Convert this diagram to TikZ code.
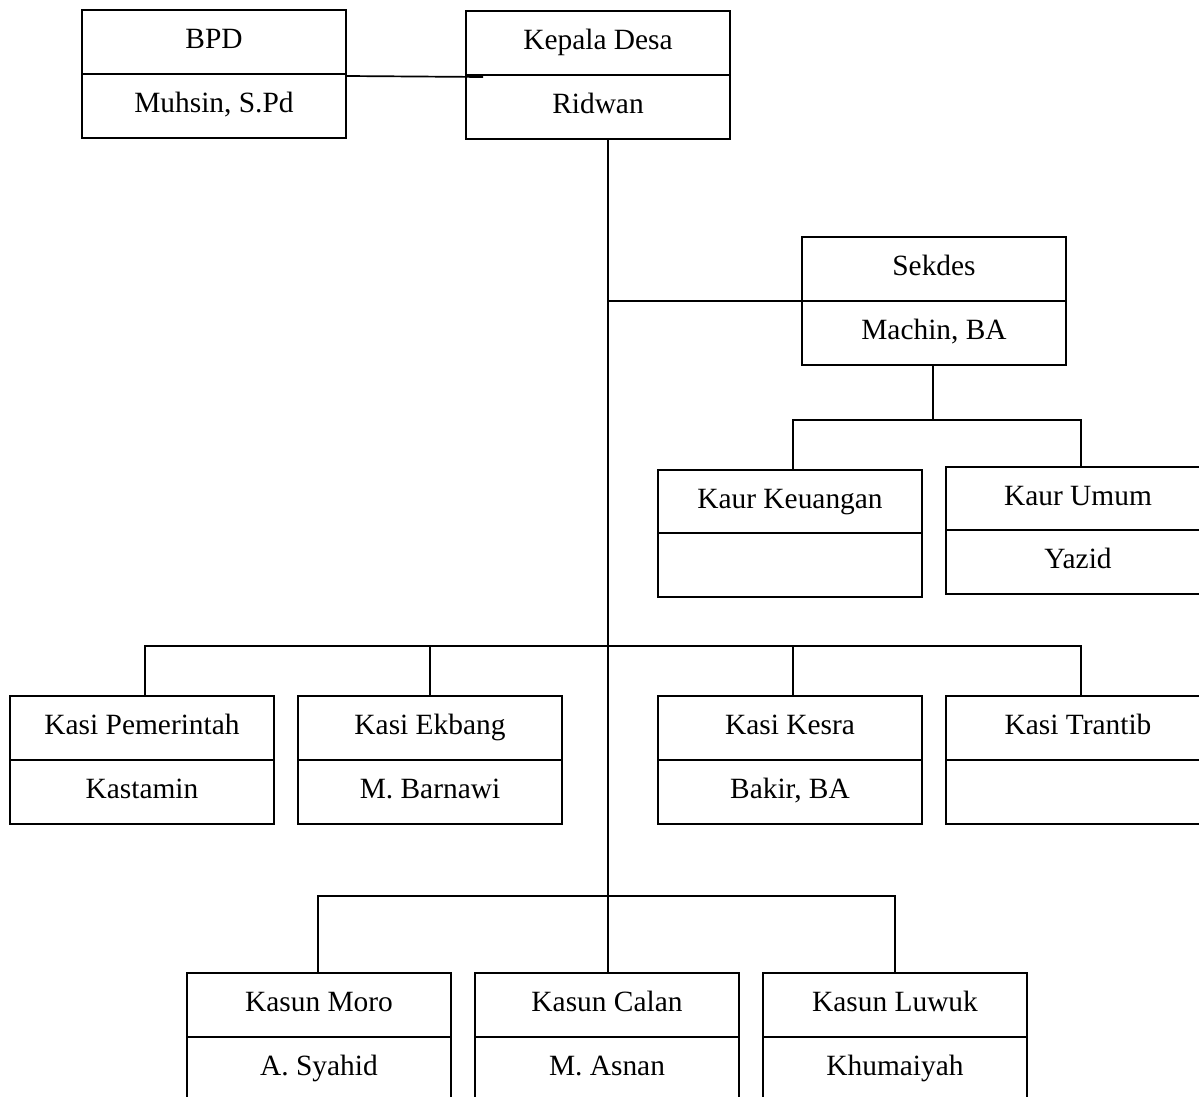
\documentclass[tikz,border=0pt]{standalone}
\usepackage{fontspec}
\setmainfont{Liberation Serif}
\newcommand\orgbox[6][64]{%
  \node[cell, minimum height=#1] (#2T) at (#3,#4) {#5};
  \node[cell] (#2B) at (#2T.south west) {#6};
}
\begin{document}
\begin{tikzpicture}[x=1pt,y=-1pt,
  cell/.style={draw, line width=1.7pt, minimum width=264, minimum height=64,
    inner sep=0pt, outer sep=0pt, anchor=north west,
    text height=19.5pt, text depth=6pt,
    font=\fontsize{29.4}{35}\selectfont},
  conn/.style={draw, line width=1.7pt}]
\clip (0,0) rectangle (1199,1097);
% boxes
\orgbox{bpd}{82}{10}{BPD}{Muhsin, S.Pd}
\orgbox{kd}{466}{11}{Kepala Desa}{Ridwan}
\orgbox{sd}{802}{237}{Sekdes}{Machin, BA}
\orgbox[63]{kk}{658}{470}{Kaur Keuangan}{}
\orgbox[63]{ku}{946}{467}{Kaur Umum}{Yazid}
\orgbox{kp}{10}{696}{Kasi Pemerintah}{Kastamin}
\orgbox{ke}{298}{696}{Kasi Ekbang}{M. Barnawi}
\orgbox{ks}{658}{696}{Kasi Kesra}{Bakir, BA}
\orgbox{kt}{946}{696}{Kasi Trantib}{}
\orgbox{km}{187}{973}{Kasun Moro}{A. Syahid}
\orgbox{kc}{475}{973}{Kasun Calan}{M. Asnan}
\orgbox{kl}{763}{973}{Kasun Luwuk}{Khumaiyah}
% junction levels
\coordinate (sdbar) at (0,420);
\coordinate (kasibar) at (0,646);
\coordinate (kasunbar) at (0,896);
% BPD -- Kepala Desa
\draw[conn] ([yshift=-2pt]bpdB.north east) -- ([xshift=17pt,yshift=-2pt]kdB.north west);
% main spine
\draw[conn] ([xshift=1pt]kcT.north |- kdB.south) -- ([xshift=1pt]kcT.north);
% Sekdes
\draw[conn] ([xshift=1pt]kcT.north |- sdT.south west) -- (sdT.south west);
\draw[conn] ([xshift=-1pt]sdB.south) -- ([xshift=-1pt]sdB.south |- sdbar);
\draw[conn] ([xshift=3pt]kkT.north) -- ([xshift=3pt]kkT.north |- sdbar) -- ([xshift=3pt]kuT.north |- sdbar) -- ([xshift=3pt]kuT.north);
% Kasi row
\draw[conn] ([xshift=3pt]kpT.north) -- ([xshift=3pt]kpT.north |- kasibar) -- ([xshift=3pt]ktT.north |- kasibar) -- ([xshift=3pt]ktT.north);
\draw[conn] (keT.north) -- (keT.north |- kasibar);
\draw[conn] ([xshift=3pt]ksT.north) -- ([xshift=3pt]ksT.north |- kasibar);
% Kasun row
\draw[conn] ([xshift=-1pt]kmT.north) -- ([xshift=-1pt]kmT.north |- kasunbar) -- (klT.north |- kasunbar) -- (klT.north);
\end{tikzpicture}
\end{document}
